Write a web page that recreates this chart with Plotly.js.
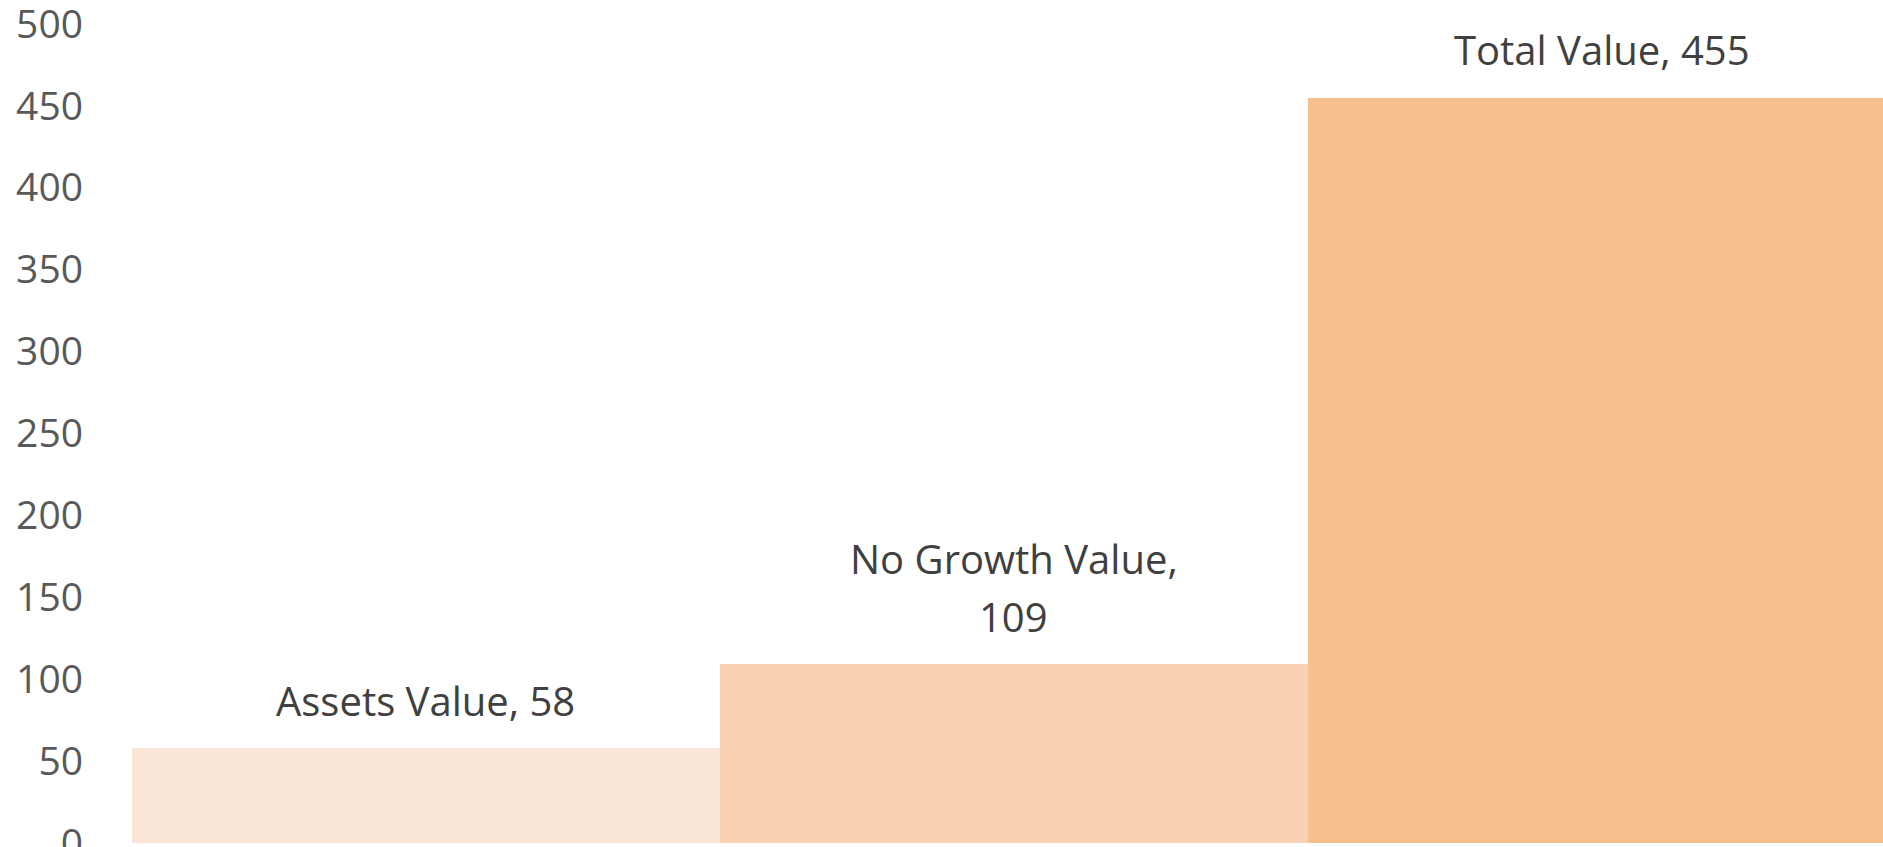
<!DOCTYPE html>
<html>
<head>
<meta charset="utf-8">
<script src="https://cdn.plot.ly/plotly-3.0.1.min.js"></script>
<style>
  html, body { margin: 0; padding: 0; background: #ffffff; }
  #chart { width: 1883px; height: 847px; }
</style>
</head>
<body>
<div id="chart"></div>
<script>
// ---- data ----
const categories = ["Assets Value", "No Growth Value", "Total Value"];
const values = [58, 109, 455];
const labelSeparators = [", ", ",\n", ", "];
const barColors = ["#FBE6D7", "#F9D2B3", "#F8BF8E"];
const yTickValues = [0, 50, 100, 150, 200, 250, 300, 350, 400, 450, 500];

const FONT = "'Open Sans', Lato, sans-serif";

const trace = {
  type: "bar",
  x: categories,
  y: values,
  marker: { color: barColors, line: { width: 0 } },
  hoverinfo: "none"
};

// data labels: one annotation per text line, anchored at each bar top
const annotations = [];
categories.forEach((c, i) => {
  const lines = (c + labelSeparators[i] + values[i]).split("\n");
  lines.forEach((ln, k) => {
    annotations.push({
      x: c,
      y: values[i],
      xref: "x",
      yref: "y",
      text: ln,
      showarrow: false,
      xanchor: "center",
      yanchor: "middle",
      yshift: 48 + (lines.length - 1 - k) * 58,
      font: { family: FONT, size: 40, color: "#404040" }
    });
  });
});

const layout = {
  width: 1883,
  height: 847,
  margin: { l: 132, r: 0, t: 24, b: 4, pad: 0 },
  paper_bgcolor: "#ffffff",
  plot_bgcolor: "#ffffff",
  bargap: 0,
  showlegend: false,
  xaxis: {
    type: "category",
    range: [-0.5, 2.478],
    showticklabels: false,
    showgrid: false,
    zeroline: false,
    showline: false,
    ticks: ""
  },
  yaxis: {
    range: [0, 500],
    tickvals: yTickValues,
    ticktext: yTickValues.map(String),
    showgrid: false,
    zeroline: false,
    showline: false,
    ticks: "",
    ticklabelstandoff: 48,
    ticklabeloverflow: "allow",
    tickfont: { family: FONT, size: 39, color: "#595959" }
  },
  annotations: annotations
};

Plotly.newPlot("chart", [trace], layout, { displayModeBar: false, staticPlot: true });
</script>
</body>
</html>
